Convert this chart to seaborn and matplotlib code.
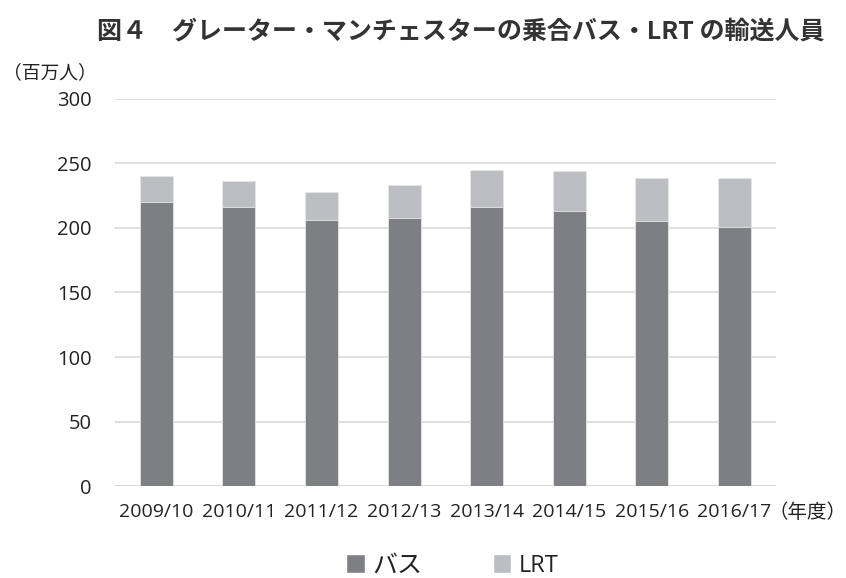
import pandas as pd
import matplotlib.pyplot as plt
import seaborn as sns
from matplotlib.patches import Patch

# data (million passengers)
years = ["2009/10", "2010/11", "2011/12", "2012/13", "2013/14", "2014/15", "2015/16", "2016/17"]
bus = [220, 216, 206, 208, 216, 213, 205, 201]
lrt = [20, 20, 22, 25, 29, 31, 34, 38]

bus_color = "#7e7f83"
lrt_color = "#bdbec1"

df = pd.DataFrame({"year": years, "bus": bus, "lrt": lrt})
df["total"] = df["bus"] + df["lrt"]

sns.set_style("white")
plt.rcParams['font.family'] = ['Noto Sans CJK JP', 'DejaVu Sans']

fig = plt.figure(figsize=(8.46, 5.78), dpi=100)
ax = fig.add_axes([0.136, 0.159, 0.781, 0.670])

# stacked bars: total first (LRT on top), then bus
sns.barplot(data=df, x="year", y="total", color=lrt_color, width=0.4,
            saturation=1, edgecolor="#e6e6e6", linewidth=0.6, ax=ax, zorder=3)
sns.barplot(data=df, x="year", y="bus", color=bus_color, width=0.4,
            saturation=1, edgecolor="#e6e6e6", linewidth=0.6, ax=ax, zorder=3)

ax.set_ylim(0, 300)
ax.set_yticks(range(0, 301, 50))
ax.yaxis.grid(True, color="#d9d9d9", linewidth=1.2, zorder=0)
ax.set_xlim(-0.5, len(years) - 0.5)
for s in ax.spines.values():
    s.set_visible(False)
ax.axhline(0, color="#d9d9d9", linewidth=1.2, zorder=1)
ax.set_xlabel("")
ax.set_ylabel("")
ax.tick_params(axis="x", length=0, pad=12, colors="#222222")
ax.tick_params(axis="y", length=0, pad=17, colors="#222222")
for lab in ax.get_xticklabels():
    lab.set_fontfamily("Open Sans")
    lab.set_fontsize(14)
for lab in ax.get_yticklabels():
    lab.set_fontfamily("Open Sans")
    lab.set_fontsize(14.5)

fig.text(0.545, 0.946, "図４　グレーター・マンチェスターの乗合バス・LRT の輸送人員",
         ha="center", va="center", fontsize=18, fontweight="bold", color="#333333")
fig.text(0.004, 0.875, "（百万人）", ha="left", va="center", fontsize=13.5, color="#222222")
fig.text(1.0, 0.114, "（年度）", ha="right", va="center", fontsize=14, color="#222222")

handles = [Patch(facecolor=bus_color, label="バス"), Patch(facecolor=lrt_color, label="LRT")]
leg = fig.legend(handles=handles, loc="center", bbox_to_anchor=(0.535, 0.022), ncol=2,
                 frameon=False, fontsize=18, handlelength=0.75, handleheight=0.75,
                 handletextpad=0.3, columnspacing=2.8)
for t in leg.get_texts():
    t.set_color("#222222")
leg.get_texts()[1].set_fontfamily("Open Sans")
leg.get_texts()[1].set_fontsize(17)

fig.savefig("out.png", dpi=100)
